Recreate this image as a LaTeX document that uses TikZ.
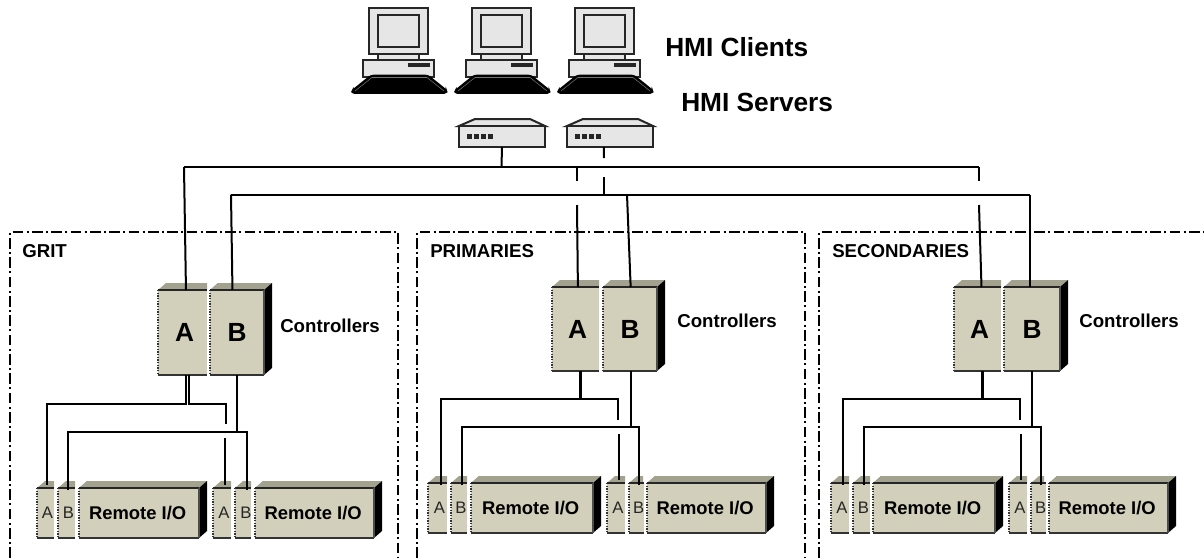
\documentclass[tikz,border=0pt]{standalone}
\usepackage{fontspec}
\setmainfont{Liberation Sans}
\definecolor{unitfront}{HTML}{D2D0BA}
\definecolor{unittop}{HTML}{A3A28E}
\definecolor{hmigrey}{HTML}{E6E6E6}

\newcommand{\halfbox}[7][]{
	\fill[unittop] (#3,#4) -- ++(8,-7) -- ++(#5-8,0) -- ++(0,7) -- cycle;
	\node[unit,minimum width=#5*.75pt,minimum height=#6*.75pt,#1] (#2) at (#3,#4) {#7};
	\draw[line width=1.8pt,black!85] (#2.north west) -- (#2.north east);
	\draw[line width=1pt,black!80] (#2.south west) -- (#2.south east);
	\draw[line width=1pt,black!80,densely dotted] (#2.north west) -- (#2.south west);
}
\newcommand{\fullbox}[7][]{
	\halfbox[#1]{#2}{#3}{#4}{#5}{#6}{#7}
	\fill[unittop] (#2.north west) -- ++(8,-7) -- ++(#5,0) -- (#2.north east) -- cycle;
	\draw[line width=1.8pt,black!85] (#2.north west) -- (#2.north east);
	\fill[black] (#2.north east) -- ++(8,-7) -- ++(0,#6) -- (#2.south east) -- cycle;
	\draw[line width=.9pt,black!70] (#2.north east) -- (#2.south east);
}
\newcommand{\hmiclient}[2]{
	\begin{scope}[shift={(#2,0)}]
		\draw[hmiline,fill=hmigrey] (378,53) rectangle (419,60);
		\node[hmibox,minimum width=59*.75pt,minimum height=46*.75pt] (#1) at (369,8) {};
		\draw[hmiline,fill=hmigrey] (378,15) rectangle (419,47);
		\draw[hmiline,fill=hmigrey] (363,59.5) rectangle (434,77);
		\fill[black!85] (408,62.5) rectangle (430,67);
		\draw[black,fill=black,line width=1.2pt,rounded corners=2pt] (351.5,93) -- (353,90) -- (371,75.5) -- (428,75.5) -- (446,90) -- (447,93) -- cycle;
		\draw[black!55,line width=.4pt] (355,91) -- (372,77.5) -- (427,77.5) -- (444,91);
	\end{scope}
}
\newcommand{\hmiserver}[3]{
	\draw[hmiline,fill=hmigrey] (#2,#3) -- ++(16,-7) -- ++(55,0) -- ++(15,7) -- cycle;
	\node[hmibox,minimum width=86*.75pt,minimum height=21*.75pt] (#1) at (#2,#3) {};
	\foreach \led in {8,15,22,29}
		\fill[black!85] (#2+\led,#3+8) rectangle ++(5,5);
}

\begin{document}
\begin{tikzpicture}[x=.75pt,y=-.75pt,
	unit/.style={fill=unitfront,inner sep=0pt,outer sep=0pt,anchor=north west},
	hmibox/.style={draw=black!85,fill=hmigrey,line width=1.5pt,inner sep=0pt,outer sep=0pt,anchor=north west},
	hmiline/.style={draw=black!85,line width=1.5pt},
	wire/.style={draw=black,line width=1.5pt,line join=miter},
	area/.style={draw=black,line width=1.2pt,dash pattern=on 8pt off 2.5pt on 1.5pt off 2.5pt},
	bigtitle/.style={font=\fontsize{19.7pt}{22pt}\selectfont\bfseries,anchor=west,inner sep=0pt},
	small title/.style={font=\fontsize{14pt}{16pt}\selectfont\bfseries,anchor=west,inner sep=0pt},
	ctl text/.style={font=\fontsize{19.7pt}{22pt}\selectfont\bfseries},
	rio text/.style={font=\fontsize{13.8pt}{16pt}\selectfont\bfseries},
	card text/.style={font=\fontsize{12.5pt}{14pt}\selectfont,text=black!85}]
	\useasboundingbox (0,0) rectangle (1204,558);

	\draw[area] (10,558) -- (10,232) -- (398,232) -- (398,558);
	\draw[area] (417,558) -- (417,232) -- (805,232) -- (805,558);
	\draw[area] (819,558) -- (819,232) -- (1204,232);

	\node[small title] (gritT) at (22,251) {GRIT};
	\node[small title] (primT) at (430,251) {PRIMARIES};
	\node[small title] (secT) at (832,251) {SECONDARIES};
	\node[bigtitle] (clientT) at (665,47) {HMI Clients};
	\node[bigtitle] (serverT) at (681,102) {HMI Servers};
	\node[small title] (gritC) at (280,326) {Controllers};
	\node[small title] (primC) at (677,321) {Controllers};
	\node[small title] (secC) at (1079,321) {Controllers};

	\hmiclient{pc1}{0}
	\hmiclient{pc2}{103}
	\hmiclient{pc3}{206}
	\hmiserver{srv1}{459}{126}
	\hmiserver{srv2}{567}{126}

	\halfbox[ctl text]{gritA}{158}{290}{49}{85}{\kern3pt\raisebox{-2pt}{A}}
	\fullbox[ctl text]{gritB}{210}{290}{54}{85}{\raisebox{-2pt}{B}}
	\halfbox[ctl text]{primA}{552}{287}{47}{84}{\kern3pt\raisebox{-2pt}{A}}
	\fullbox[ctl text]{primB}{603}{287}{54}{84}{\raisebox{-2pt}{B}}
	\halfbox[ctl text]{secA}{954}{287}{47}{84}{\kern3pt\raisebox{-2pt}{A}}
	\fullbox[ctl text]{secB}{1004}{287}{56}{84}{\raisebox{-2pt}{B}}

	\halfbox[card text]{gritA1}{37}{488}{17}{50}{\kern3pt A}
	\halfbox[card text]{gritB1}{58}{488}{17}{50}{\kern3pt B}
	\fullbox[rio text]{gritR1}{79}{488}{120}{50}{\hspace*{-2pt}Remote I/O}
	\halfbox[card text]{gritA2}{213}{488}{18}{50}{\kern3pt A}
	\halfbox[card text]{gritB2}{235}{488}{16}{50}{\kern4pt B}
	\fullbox[rio text]{gritR2}{255}{488}{119}{50}{\hspace*{-2pt}Remote I/O}

	\halfbox[card text]{primA1}{428}{483}{19}{50}{\kern3pt A}
	\halfbox[card text]{primB1}{451}{483}{16}{50}{\kern3pt B}
	\fullbox[rio text]{primR1}{471}{483}{122}{50}{\hspace*{-2pt}Remote I/O}
	\halfbox[card text]{primA2}{607}{483}{18}{50}{\kern3pt A}
	\halfbox[card text]{primB2}{629}{483}{14}{50}{\kern3pt B}
	\fullbox[rio text]{primR2}{647}{483}{119}{50}{\hspace*{-2pt}Remote I/O}

	\halfbox[card text]{secA1}{831}{483}{18}{50}{\kern3pt A}
	\halfbox[card text]{secB1}{853}{483}{17}{50}{\kern3pt B}
	\fullbox[rio text]{secR1}{873}{483}{122}{50}{\hspace*{-2pt}Remote I/O}
	\halfbox[card text]{secA2}{1009}{483}{18}{50}{\kern3pt A}
	\halfbox[card text]{secB2}{1031}{483}{13}{50}{\kern3pt B}
	\fullbox[rio text]{secR2}{1049}{483}{119}{50}{\hspace*{-2pt}Remote I/O}

	\coordinate (busA) at (184,167);
	\coordinate (busAe) at (979,167);
	\coordinate (busB) at (231,194.5);
	\coordinate (busBe) at (1030,194.5);
	\coordinate (tapS1) at (501.5,167);
	\coordinate (tapS2a) at (604,158);
	\coordinate (tapS2b) at (604,177);
	\coordinate (tapS2c) at (604,194.5);
	\coordinate (tapP1) at (577,167);
	\coordinate (tapP1a) at (577,181);
	\coordinate (tapP1b) at (577,205);
	\coordinate (tapP2) at (627,194.5);
	\coordinate (tapQ1a) at (979,181);
	\coordinate (tapQ1b) at (979,205);

	\path[wire]
	([xshift=2.6pt]gritA.north) edge (busA)
	(busA) edge (busAe)
	([xshift=-3.4pt]gritB.north) edge (busB)
	(busB) edge (busBe)
	(srv1.south) edge (tapS1)
	([xshift=-4.6pt]srv2.south) edge (tapS2a)
	(tapS2b) edge (tapS2c)
	(tapP1) edge (tapP1a)
	(tapP1b) edge ([xshift=1.8pt]primA.north)
	(tapP2) edge ([xshift=.5pt]primB.north)
	(busAe) edge (tapQ1a)
	(tapQ1b) edge ([xshift=3pt]secA.north)
	(busBe) edge ([xshift=-1.5pt]secB.north)
	;

	\draw[wire] ([xshift=2.8pt]gritA.south) |- (47,404) -- ([xshift=7.5pt,yshift=2pt]gritA1.north west);
	\draw[wire] ([xshift=5pt]gritA.south) |- (226,404) -- (226,424);
	\coordinate (gritGap) at (225,438);
	\draw[wire] (gritGap) -- ([xshift=9pt,yshift=2pt]gritA2.north west);
	\draw[wire] (gritB.south) -- ++(0,57) coordinate (gritJ);
	\draw[wire] (68,490) |- (gritJ) -| (247,490);

	\draw[wire] ([xshift=3.2pt]primA.south) |- (441,399) -- (441,485);
	\draw[wire] ([xshift=4.4pt]primA.south) |- (618,399) -- (618,420);
	\coordinate (primGap) at (619,434);
	\draw[wire] (primGap) -- ([xshift=9pt,yshift=2pt]primA2.north west);
	\draw[wire] ([xshift=.5pt]primB.south) -- ++(0,56) coordinate (primJ);
	\draw[wire] (462,485) |- (primJ) -| (639,485);

	\draw[wire] ([xshift=3.2pt]secA.south) |- (843,399) -- (843,485);
	\draw[wire] ([xshift=4.4pt]secA.south) |- (1020,399) -- (1020,420);
	\coordinate (secGap) at (1021,434);
	\draw[wire] (secGap) -- ([xshift=9pt,yshift=2pt]secA2.north west);
	\draw[wire] (secB.south) -- ++(0,56) coordinate (secJ);
	\draw[wire] (864,485) |- (secJ) -| (1041,485);
\end{tikzpicture}
\end{document}
